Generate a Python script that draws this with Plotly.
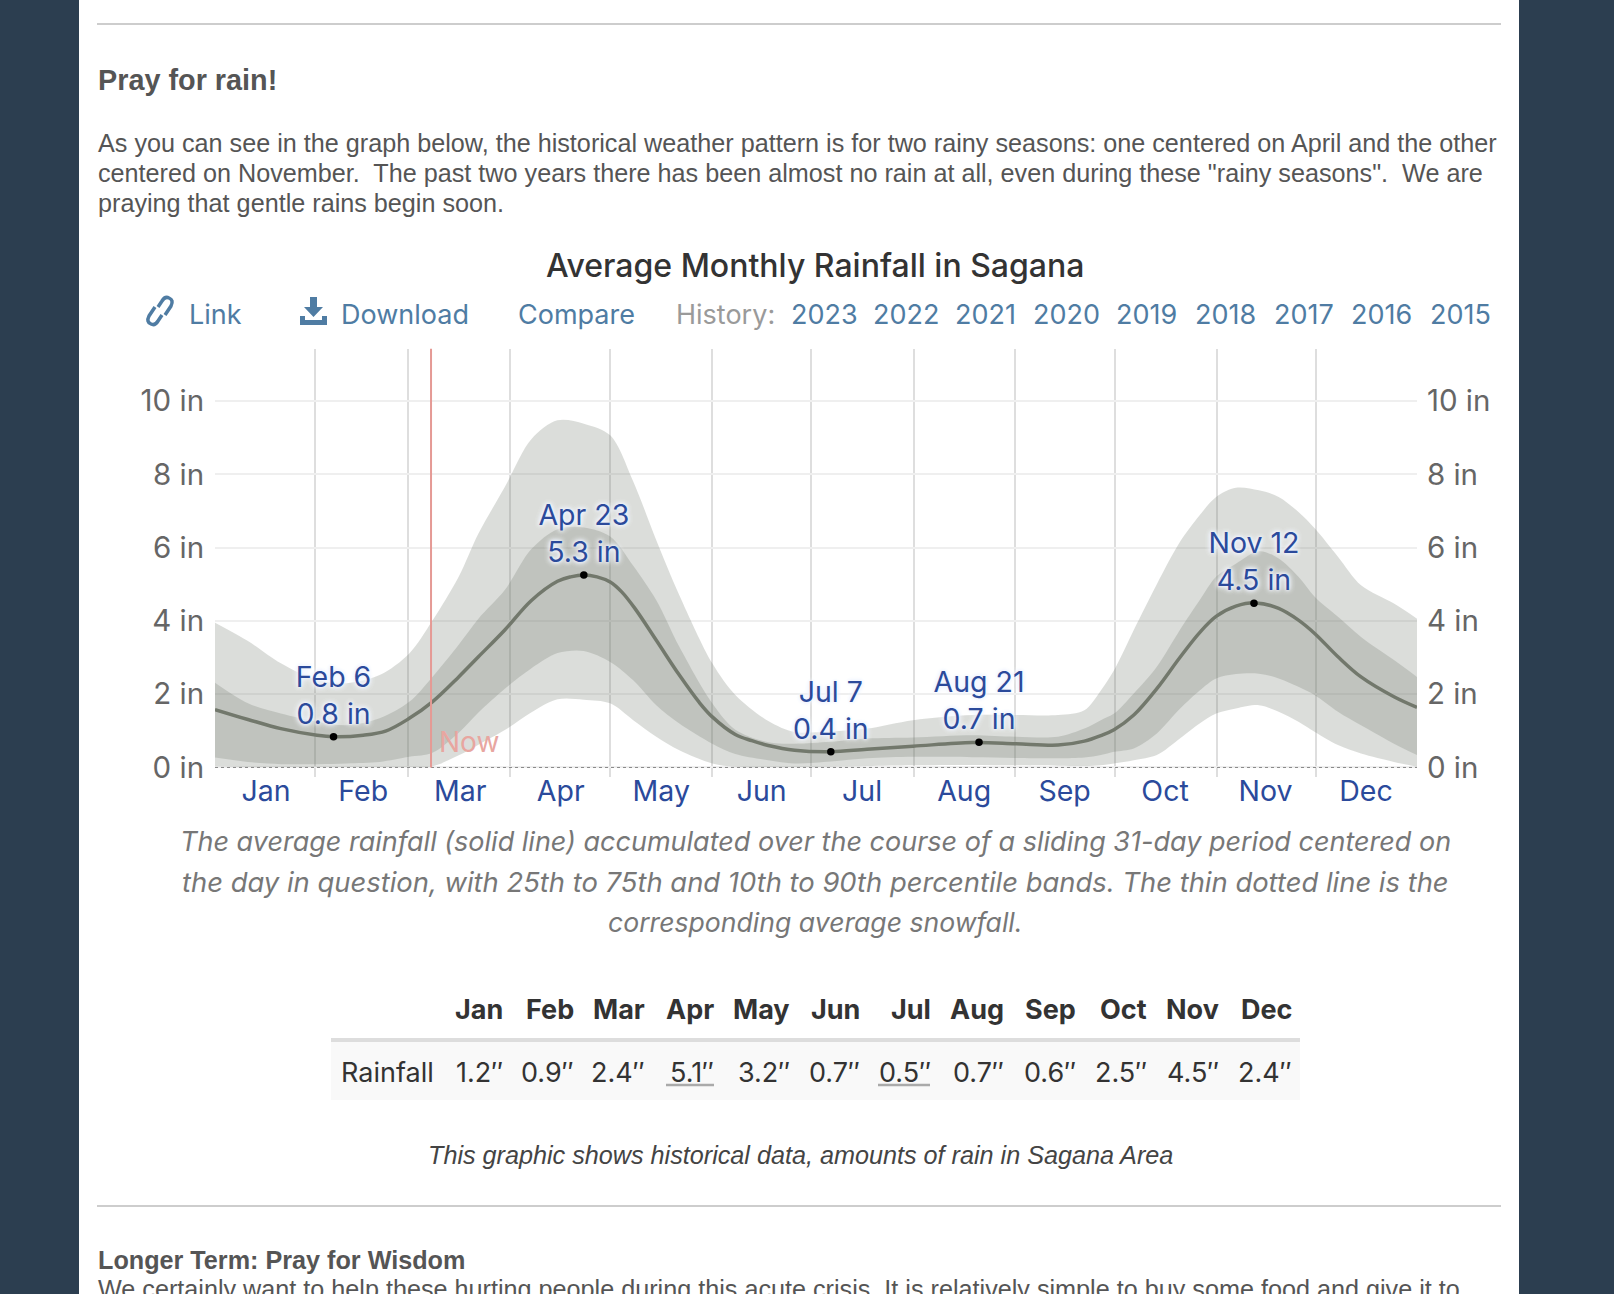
import plotly.graph_objects as go

W = 1614
H = 1294
# figure runs past the window so the last, half-hidden line of text stays in the paper
FIG_H = 1330

# rainfall curves, inches by day of year
days = [0, 10, 20, 31, 40, 50, 59, 66, 74, 80, 88, 96, 104, 112, 120, 127, 134, 141, 151, 158, 168, 176, 187,
        198, 212, 230, 243, 256, 264, 269, 273, 279, 286, 293, 299, 304, 310, 317, 323, 329, 334, 341, 348, 358, 365]
p90 = [3.95, 3.45, 2.84, 2.38, 2.3, 2.52, 3.11, 4.0, 5.2, 6.38, 7.65, 8.95, 9.47, 9.38, 9.06, 7.8, 6.2, 4.7, 2.84, 1.98, 1.27, 0.97, 0.98,
       1.06, 1.29, 1.43, 1.43, 1.43, 1.56, 2.1, 2.65, 3.75, 5.0, 6.15, 6.88, 7.38, 7.63, 7.56, 7.38, 6.97, 6.52, 5.75, 4.97, 4.47, 4.06]
p75 = [2.31, 1.75, 1.47, 1.25, 1.15, 1.34, 1.79, 2.47, 3.35, 4.06, 4.84, 5.95, 6.5, 6.55, 6.3, 5.5, 4.56, 3.29, 1.75, 1.03, 0.69, 0.65, 0.7,
       0.79, 0.82, 0.88, 0.84, 0.84, 1.06, 1.29, 1.47, 2.02, 2.75, 3.75, 4.56, 5.2, 5.56, 5.9, 5.7, 5.2, 4.65, 4.11, 3.56, 2.93, 2.47]
p25 = [0.27, 0.15, 0.09, 0.09, 0.11, 0.15, 0.29, 0.4, 0.95, 1.5, 2.15, 2.7, 3.12, 3.18, 2.88, 2.38, 1.7, 1.2, 0.65, 0.37, 0.2, 0.11, 0.16,
       0.25, 0.29, 0.28, 0.26, 0.25, 0.27, 0.34, 0.43, 0.52, 0.93, 1.6, 2.1, 2.43, 2.55, 2.56, 2.43, 2.2, 1.97, 1.52, 1.15, 0.65, 0.34]
p10 = [0.03, 0.01, 0.01, 0.01, 0.01, 0.01, 0.01, 0.03, 0.33, 0.62, 1.02, 1.5, 1.86, 1.85, 1.75, 1.29, 0.84, 0.47, 0.11, 0.02, 0.01, 0.01, 0.02,
       0.04, 0.06, 0.07, 0.06, 0.05, 0.04, 0.06, 0.11, 0.2, 0.34, 0.79, 1.2, 1.47, 1.61, 1.7, 1.52, 1.25, 0.97, 0.61, 0.38, 0.15, 0.02]

mean_days = [0, 10, 20, 31, 36, 45, 52, 59, 66, 74, 80, 88, 96, 104, 108, 112, 116, 120, 123.5, 127.5, 134, 141, 147, 151, 158, 163, 168, 176, 187,
             198, 212, 230, 243, 256, 264, 269, 273, 279, 286, 293, 299, 304, 310, 316, 323, 329, 334, 341, 348, 358, 365]
mean = [1.58, 1.31, 1.06, 0.88, 0.84, 0.88, 1.0, 1.34, 1.79, 2.47, 3.02, 3.75, 4.55, 5.08, 5.2, 5.25, 5.2, 5.06, 4.79, 4.34, 3.47, 2.52, 1.78, 1.38, 0.9, 0.73, 0.6, 0.47, 0.43,
        0.5, 0.58, 0.68, 0.65, 0.61, 0.72, 0.87, 1.03, 1.43, 2.15, 3.0, 3.68, 4.12, 4.4, 4.49, 4.34, 4.02, 3.65, 3.02, 2.47, 1.93, 1.64]

snow_days = [0, 365]
snow_values = [0, 0]

peak_days = [36, 112, 187, 232, 315.5]
peak_values = [0.84, 5.25, 0.43, 0.69, 4.48]
peak_labels = ["Feb 6<br>0.8 in", "Apr 23<br>5.3 in", "Jul 7<br>0.4 in", "Aug 21<br>0.7 in", "Nov 12<br>4.5 in"]

now_day = 65.6

months = ["Jan", "Feb", "Mar", "Apr", "May", "Jun", "Jul", "Aug", "Sep", "Oct", "Nov", "Dec"]
month_mids = [15.5, 45, 74.5, 105, 135.5, 166, 196.5, 227.5, 258, 288.5, 319, 349.5]
month_starts = [30.3, 58.7, 89.7, 120, 151, 181, 212.3, 243, 273.3, 304.3, 334.3]

y_ticks = [0, 2, 4, 6, 8, 10]
y_labels = ["0 in", "2 in", "4 in", "6 in", "8 in", "10 in"]

table_values = ["1.2″", "0.9″", "2.4″", "5.1″", "3.2″", "0.7″", "0.5″", "0.7″", "0.6″", "2.5″", "4.5″", "2.4″"]
table_right_edges = [503.5, 574.5, 645.5, 714.5, 790.5, 860.5, 931.5, 1004.5, 1076.5, 1147.5, 1219.5, 1292.5]

history_years = ["2023", "2022", "2021", "2020", "2019", "2018", "2017", "2016", "2015"]
history_lefts = [789.5, 872, 954, 1031.5, 1115, 1194, 1273, 1349.5, 1429]

BODY_LINES = [
    'As you can see in the graph below, the historical weather pattern is for two rainy seasons: one centered on April and the other',
    'centered on November.  The past two years there has been almost no rain at all, even during these "rainy seasons".  We are',
    'praying that gentle rains begin soon.',
]
CAPTION_LINES = [
    ("The average rainfall (solid line) accumulated over the course of a sliding 31-day period centered on", 27),
    ("the day in question, with 25th to 75th and 10th to 90th percentile bands. The thin dotted line is the", 27.4),
    ("corresponding average snowfall.", 26.6),
]

SANS = "Liberation Sans"
UI = "Inter"
BAND = "rgba(112,120,106,0.25)"
LINK = "#4f7ca3"
BLUE = "#2b4a9b"


def px(x):
    return x / W


def py(y):
    return 1 - y / FIG_H


def label(text, x, y, size, color, family=UI, anchor="left", weight=None, style=None):
    font = dict(size=size, color=color, family=family)
    if weight:
        font["weight"] = weight
    if style:
        font["style"] = style
    return dict(text=text, x=px(x), y=py(y), xref="paper", yref="paper", xanchor=anchor, yanchor="middle",
                showarrow=False, font=font, borderpad=0)


def rect(x0, y0, x1, y1, color):
    return dict(type="rect", xref="paper", yref="paper", x0=px(x0), x1=px(x1), y0=py(y0), y1=py(y1),
                fillcolor=color, line_width=0, layer="below")


def rule(x0, x1, y, color, width):
    return dict(type="line", xref="paper", yref="paper", x0=px(x0), x1=px(x1), y0=py(y), y1=py(y),
                line=dict(color=color, width=width), layer="below")


def icon(segments, fill=None, width=0):
    parts = []
    for seg in segments:
        coords = seg[1:]
        pairs = [f"{px(coords[i])},{py(coords[i + 1])}" for i in range(0, len(coords), 2)]
        parts.append(seg[0] + " ".join(pairs))
    d = " ".join(parts)
    return dict(type="path", xref="paper", yref="paper", path=d, fillcolor=fill or "rgba(0,0,0,0)",
                line=dict(color=LINK, width=width))


edge = dict(width=0, shape="spline", smoothing=0.9)

fig = go.Figure()

fig.add_trace(go.Scatter(x=days, y=p10, mode="lines", line=edge, hoverinfo="skip"))
fig.add_trace(go.Scatter(x=days, y=p90, mode="lines", line=edge, fill="tonexty", fillcolor=BAND, hoverinfo="skip"))
fig.add_trace(go.Scatter(x=days, y=p25, mode="lines", line=edge, hoverinfo="skip"))
fig.add_trace(go.Scatter(x=days, y=p75, mode="lines", line=edge, fill="tonexty", fillcolor=BAND, hoverinfo="skip"))
fig.add_trace(go.Scatter(x=snow_days, y=snow_values, mode="lines", yaxis="y2",
                         line=dict(color="#888888", width=1, dash="dot"), hoverinfo="skip"))
fig.add_trace(go.Scatter(x=mean_days, y=mean, mode="lines", line=dict(color="#72786c", width=3.5, shape="spline", smoothing=1),
                         hoverinfo="skip"))
fig.add_trace(go.Scatter(x=peak_days, y=peak_values, mode="markers+text", text=peak_labels, textposition="top center",
                         marker=dict(color="black", size=7.5),
                         textfont=dict(family=UI, size=28.5, color=BLUE,
                                       shadow="0 0 3px #f0f4ff, 0 0 4px #f0f4ff, 0 0 6px #f0f4ff, 0 0 6px #f0f4ff"),
                         hoverinfo="skip"))

shapes = [
    rect(0, 0, 79, FIG_H, "#2c3e50"),
    rect(1519, 0, W, FIG_H, "#2c3e50"),
    rule(97, 1501, 24, "#bdbdbd", 1.5),
    rule(97, 1501, 1206, "#bdbdbd", 1.5),
    rect(331, 1042, 1300, 1100, "#f9f9f9"),
    rule(331, 1300, 1040, "#dddddd", 4),
    rule(666, 714, 1085, "#aaaaaa", 2.5),
    rule(878, 930, 1085, "#aaaaaa", 2.5),
    dict(type="line", xref="x", yref="y", x0=now_day, x1=now_day, y0=0, y1=11.43,
         line=dict(color="#e59a95", width=2)),
    # download icon
    icon([("M", 310, 297), ("L", 317, 297), ("L", 317, 307), ("L", 323, 307), ("L", 313.5, 317), ("L", 304, 307),
          ("L", 310, 307), ("Z",)], fill=LINK),
    icon([("M", 300, 316), ("L", 305, 316), ("L", 305, 320), ("L", 322, 320), ("L", 322, 316), ("L", 327, 316),
          ("L", 327, 325), ("L", 300, 325), ("Z",)], fill=LINK),
    # link icon
    icon([("M", 155, 307), ("L", 149, 316), ("Q", 146, 322, 151, 324), ("Q", 155, 326, 158, 321), ("L", 162, 315)], width=3.5),
    icon([("M", 165, 315), ("L", 171, 306), ("Q", 174, 300, 169, 298), ("Q", 165, 296, 162, 301), ("L", 158, 307)], width=3.5),
]

notes = [
    label("Pray for rain!", 96.5, 80, 28.8, "#555555", SANS, weight="bold"),
    label("Average Monthly Rainfall in Sagana", 815, 265.5, 32, "#333333", UI, "center", weight=500),
    label("Link", 187.5, 314, 27, LINK),
    label("Download", 339.5, 314, 27, LINK),
    label("Compare", 516.5, 314, 27, LINK),
    label("History:", 674.5, 314, 27, "#9a9a9a"),
    dict(text="Now", x=now_day, y=0.7, xref="x", yref="y", xanchor="left", yanchor="middle", xshift=6, showarrow=False,
         font=dict(family=UI, size=28, color="#e8a6a0")),
    label("Rainfall", 340, 1072, 27, "#333333"),
    label("This graphic shows historical data, amounts of rain in Sagana Area", 800, 1155, 25.2, "#444444", SANS, "center", style="italic"),
    label("Longer Term: Pray for Wisdom", 96.5, 1260, 25.2, "#555555", SANS, weight="bold"),
    label("We certainly want to help these hurting people during this acute crisis. It is relatively simple to buy some food and give it to",
          96.5, 1289, 25.2, "#555555", SANS),
]
for i, line in enumerate(BODY_LINES):
    notes.append(label(line, 96.5, 143 + i * 30, 25.2, "#555555", SANS))
for i, (line, size) in enumerate(CAPTION_LINES):
    notes.append(label(line, 815, 842 + i * 40, size, "#777777", UI, "center", style="italic"))
for year, left in zip(history_years, history_lefts):
    notes.append(label(year, left, 314, 27, LINK))
for month, value, right in zip(months, table_values, table_right_edges):
    notes.append(label(month, right, 1009, 27, "#333333", UI, "right", weight="bold"))
    notes.append(label(value, right, 1072, 27, "#333333", UI, "right"))

fig.update_layout(
    width=W,
    height=FIG_H,
    margin=dict(l=0, r=0, t=0, b=0, autoexpand=False),
    paper_bgcolor="white",
    plot_bgcolor="rgba(0,0,0,0)",
    showlegend=False,
    shapes=shapes,
    annotations=notes,
    xaxis=dict(domain=[px(215), px(1417)], range=[0, 365], tickmode="array", tickvals=month_mids, ticktext=months,
               showgrid=False, zeroline=False, showline=False, ticks="", ticklabelstandoff=-6,
               tickfont=dict(family=UI, size=28.5, color=BLUE),
               minor=dict(tickmode="array", tickvals=month_starts, showgrid=True, gridcolor="rgba(0,0,0,0.13)",
                          gridwidth=1.5, ticks="")),
    yaxis=dict(domain=[py(777), py(348.5)], range=[-0.26, 11.43], tickmode="array", tickvals=y_ticks, ticktext=y_labels,
               showgrid=True, gridcolor="#efefef", gridwidth=2, zeroline=False, showline=False, ticks="outside", ticklen=4,
               tickcolor="rgba(0,0,0,0)", tickfont=dict(family=UI, size=29.5, color="#666666")),
    yaxis2=dict(domain=[py(777), py(348.5)], range=[-0.26, 11.43], overlaying="y", side="right", tickmode="array",
                tickvals=y_ticks, ticktext=y_labels, showgrid=False, zeroline=False, showline=False, ticks="outside",
                ticklen=3, tickcolor="rgba(0,0,0,0)", tickfont=dict(family=UI, size=29.5, color="#666666")),
)

fig.write_html("out.html", config=dict(displayModeBar=False),
               post_script="document.documentElement.style.overflow='hidden';document.body.style.cssText='margin:0;height:%dpx;overflow:hidden';" % H)
